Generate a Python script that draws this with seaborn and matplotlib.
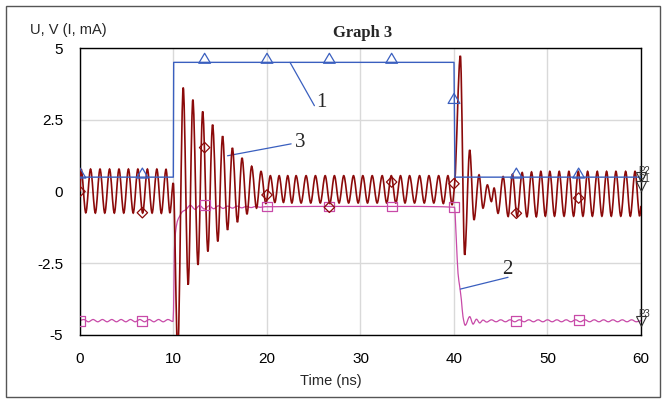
import matplotlib
matplotlib.use("Agg")
import numpy as np
import matplotlib.pyplot as plt
from matplotlib.patches import Rectangle, PathPatch
from matplotlib.path import Path
import seaborn as sns

# trace 1 (blue): input pulse
t1 = [0.0, 9.98, 10.02, 40.0, 40.1, 60.0]
v1 = [0.5, 0.5, 4.5, 4.5, 0.5, 0.5]

# trace 2 (magenta): at the turning points
t2 = [0.0, 0.4, 0.9, 1.4, 1.9, 2.4, 2.9, 3.4, 3.9, 4.4, 4.9, 5.4, 5.9, 6.4,
      6.9, 7.4, 7.9, 8.4, 8.9, 9.4, 9.95,
      10.05, 10.1, 10.25, 10.45, 10.65, 10.95, 11.3, 11.8, 12.3, 12.8, 13.3,
      13.8, 14.3, 14.8, 15.3, 15.8, 16.3, 16.8, 17.3, 17.8, 18.3, 18.8, 19.3,
      19.8, 20.5, 25.0, 30.0, 35.0, 40.05,
      40.25, 40.43, 40.61, 40.79, 40.96, 41.2, 41.68, 42.04, 42.4, 42.75,
      43.1, 43.5, 44.0, 44.5, 45.0, 45.5, 46.0, 46.5, 47.0, 47.5, 48.0, 48.5,
      49.0, 49.5, 50.0, 50.5, 51.0, 51.5, 52.0, 52.5, 53.0, 53.5, 54.0, 54.5,
      55.0, 55.5, 56.0, 56.5, 57.0, 57.5, 58.0, 58.5, 59.0, 59.5, 60.0]
v2 = [-4.50, -4.46, -4.54, -4.46, -4.54, -4.46, -4.54, -4.46, -4.54, -4.46,
      -4.54, -4.46, -4.54, -4.46, -4.54, -4.46, -4.54, -4.46, -4.54, -4.46,
      -4.53,
      -3.20, -2.03, -1.34, -1.00, -0.87, -0.70, -0.64, -0.48, -0.62, -0.49,
      -0.61, -0.50, -0.60, -0.50, -0.59, -0.51, -0.58, -0.51, -0.57, -0.52,
      -0.56, -0.52, -0.55, -0.53, -0.53, -0.52, -0.52, -0.52, -0.55,
      -1.69, -2.85, -3.31, -3.78, -4.36, -4.66, -4.36, -4.62, -4.45, -4.58,
      -4.48, -4.55, -4.47, -4.54, -4.47, -4.54, -4.47, -4.54, -4.47, -4.54,
      -4.47, -4.54, -4.47, -4.54, -4.47, -4.54, -4.47, -4.54, -4.47, -4.54,
      -4.47, -4.54, -4.47, -4.54, -4.47, -4.54, -4.47, -4.54, -4.47, -4.54,
      -4.47, -4.54, -4.47, -4.54, -4.50]

# trace 3 (dark red): peaks and troughs of the ringing
t3 = [0.0, 0.12, 0.62, 1.13, 1.64, 2.14, 2.65, 3.16, 3.67, 4.17, 4.68, 5.18,
      5.69, 6.19, 6.70, 7.21, 7.71, 8.22, 8.70, 9.20, 9.62, 9.97,
      10.45, 11.04, 11.57, 12.07, 12.62, 13.12, 13.68, 14.18, 14.74, 15.25,
      15.78, 16.30, 16.84, 17.33, 17.86, 18.36, 18.88, 19.36, 19.88, 20.36,
      20.84, 21.30, 21.76, 22.22, 22.66, 23.11, 23.65, 24.18, 24.68, 25.18,
      25.70, 26.22, 26.72, 27.21, 27.71, 28.21, 28.73, 29.25, 29.75, 30.25,
      30.75, 31.25, 31.78, 32.32, 32.80, 33.29, 33.78, 34.28, 34.76, 35.25,
      35.78, 36.32, 36.82, 37.32, 37.84, 38.36, 38.86, 39.35, 39.79, 40.07,
      40.68, 41.14, 41.68, 42.14, 42.68, 43.10, 43.57, 44.00, 44.29, 44.71,
      45.25, 45.79, 46.25, 46.75, 47.29, 47.80, 48.29, 48.80, 49.29, 49.77,
      50.25, 50.75, 51.25, 51.77, 52.29, 52.79, 53.29, 53.79, 54.29, 54.80,
      55.32, 55.82, 56.32, 56.82, 57.32, 57.84, 58.36, 58.86, 59.36, 59.86,
      60.0]
v3 = [0.00, 0.78, -0.74, 0.78, -0.75, 0.78, -0.75, 0.78, -0.75, 0.78, -0.75,
      0.78, -0.75, 0.78, -0.75, 0.78, -0.75, 0.78, -0.76, 0.77, -0.75, 0.30,
      -5.60, 3.62, -3.25, 3.20, -2.56, 2.79, -2.09, 2.33, -1.74, 1.93,
      -1.34, 1.52, -1.07, 1.17, -0.79, 0.88, -0.58, 0.70, -0.42, 0.55,
      -0.38, 0.55, -0.38, 0.55, -0.40, 0.55, -0.40, 0.55, -0.40, 0.55,
      -0.40, 0.55, -0.42, 0.55, -0.40, 0.55, -0.40, 0.55, -0.40, 0.55,
      -0.40, 0.55, -0.40, 0.55, -0.40, 0.55, -0.40, 0.55, -0.40, 0.55,
      -0.40, 0.55, -0.40, 0.55, -0.40, 0.55, -0.42, 0.55, -0.46, 0.27,
      4.73, -2.21, 1.45, -0.99, 0.58, -0.58, 0.23, -0.35, 0.12, -0.76,
      0.52, -0.87, 0.60, -0.87, 0.66, -0.88, 0.68, -0.88, 0.70, -0.86,
      0.70, -0.86, 0.70, -0.86, 0.70, -0.86, 0.70, -0.86, 0.70, -0.86,
      0.70, -0.86, 0.70, -0.86, 0.70, -0.86, 0.70, -0.86, 0.70, -0.86,
      -0.50]

# marker samples
mk_t = [0.0, 6.67, 13.33, 20.0, 26.67, 33.33, 40.0, 46.67, 53.33]
tri_v = [0.5, 0.5, 4.5, 4.5, 4.5, 4.5, 3.1, 0.5, 0.5]
sq_v = [-4.5, -4.5, -0.46, -0.52, -0.52, -0.52, -0.55, -4.52, -4.47]
dia_v = [0.0, -0.74, 1.53, -0.12, -0.55, 0.33, 0.27, -0.76, -0.23]

probe_names = ["P2", "P1", "P3"]
probe_v = [0.5, 0.2, -4.5]

blue = "#3a5fbf"
magenta = "#c84aa8"
red = "#8b0a0a"


def smooth_path(xs, ys):
    # smoothed line like the spreadsheet's "smoothed line" option:
    # monotone cubic segments through the given points
    x = np.asarray(xs, float)
    y = np.asarray(ys, float)
    h = np.diff(x)
    d = np.diff(y) / h
    m = np.zeros_like(y)
    m[0], m[-1] = d[0], d[-1]
    for i in range(1, len(y) - 1):
        if d[i - 1] * d[i] > 0:
            w1 = 2 * h[i] + h[i - 1]
            w2 = h[i] + 2 * h[i - 1]
            m[i] = (w1 + w2) / (w1 / d[i - 1] + w2 / d[i])
    verts = [(x[0], y[0])]
    codes = [Path.MOVETO]
    for i in range(len(h)):
        verts += [(x[i] + h[i] / 3, y[i] + m[i] * h[i] / 3),
                  (x[i + 1] - h[i] / 3, y[i + 1] - m[i + 1] * h[i] / 3),
                  (x[i + 1], y[i + 1])]
        codes += [Path.CURVE4] * 3
    return Path(verts, codes)


sns.set_style("white")
plt.rcParams["font.family"] = ["Liberation Sans", "DejaVu Sans"]

fig = plt.figure(figsize=(6.66, 4.03), dpi=100)
ax = fig.add_axes([80 / 666, 1 - 335 / 403, 561 / 666, 287 / 403])

ax.add_patch(PathPatch(smooth_path(t2, v2), fill=False, edgecolor=magenta,
                       lw=0.9, zorder=2))
ax.add_patch(PathPatch(smooth_path(t3, v3), fill=False, edgecolor=red,
                       lw=1.2, zorder=3))
sns.lineplot(x=t1, y=v1, ax=ax, color=blue, lw=1.0,
             estimator=None, sort=False, zorder=4)

# triangles sit on the line, like the original
tri = Path([(-0.65, -0.1), (0.65, -0.1), (0.0, 1.0), (-0.65, -0.1)],
           [Path.MOVETO, Path.LINETO, Path.LINETO, Path.CLOSEPOLY])
sns.scatterplot(x=mk_t, y=tri_v, ax=ax, marker=tri, s=170,
                facecolor="none", edgecolor=blue, linewidth=0.9, zorder=5)
sns.scatterplot(x=mk_t, y=sq_v, ax=ax, marker="s", s=50,
                facecolor="none", edgecolor=magenta, linewidth=0.9, zorder=5)
sns.scatterplot(x=mk_t, y=dia_v, ax=ax, marker="D", s=28,
                facecolor="none", edgecolor=red, linewidth=0.9, zorder=5)

# probe markers at the right edge
for name, v in zip(probe_names, probe_v):
    ax.plot([60], [v], marker="v", ms=7, mfc="none", mec="#333333",
            mew=0.8, clip_on=False, zorder=6)
    ax.text(59.7, v + 0.22, name, fontsize=7, color="#333333",
            ha="left", va="center", clip_on=False)

ax.set_xlim(0, 60)
ax.set_ylim(-5, 5)
ax.set_xticks([0, 10, 20, 30, 40, 50, 60])
ax.set_yticks([-5, -2.5, 0, 2.5, 5])
ax.set_yticklabels(["-5", "-2.5", "0", "2.5", "5"])
ax.grid(True, color="#d9d9d9", lw=1)
ax.set_axisbelow(True)
ax.tick_params(length=0, pad=12, labelsize=11, colors="black")
for s in ax.spines.values():
    s.set_color("black")
    s.set_linewidth(1)
ax.set_xlabel("")
ax.set_ylabel("")

# curve labels with leader lines
serif = ["Liberation Serif", "DejaVu Serif"]
ax.plot([22.46, 25.07], [4.5, 2.99], color=blue, lw=0.9)
ax.text(25.3, 3.1, "1", fontsize=15, family=serif, ha="left", va="center")
ax.plot([15.78, 22.58], [1.245, 1.66], color=blue, lw=0.9)
ax.text(23.0, 1.72, "3", fontsize=15, family=serif, ha="left", va="center")
ax.plot([40.68, 45.78], [-3.40, -2.99], color=blue, lw=0.9)
ax.text(45.2, -2.72, "2", fontsize=15, family=serif, ha="left", va="center")

fig.text(363 / 666, 1 - 33 / 403, "Graph 3", fontsize=12, fontweight="bold",
         family=serif, ha="center", va="center")
fig.text(68 / 666, 1 - 30 / 403, "U, V (I, mA)", fontsize=10.5,
         ha="center", va="center")
fig.text(331 / 666, 1 - 381 / 403, "Time (ns)", fontsize=10.5,
         ha="center", va="center")

fig.patches.append(Rectangle((6 / 666, 6 / 403), 654 / 666, 391 / 403,
                             transform=fig.transFigure, fill=False,
                             edgecolor="#555555", lw=1))

fig.savefig("out.png", dpi=100)
